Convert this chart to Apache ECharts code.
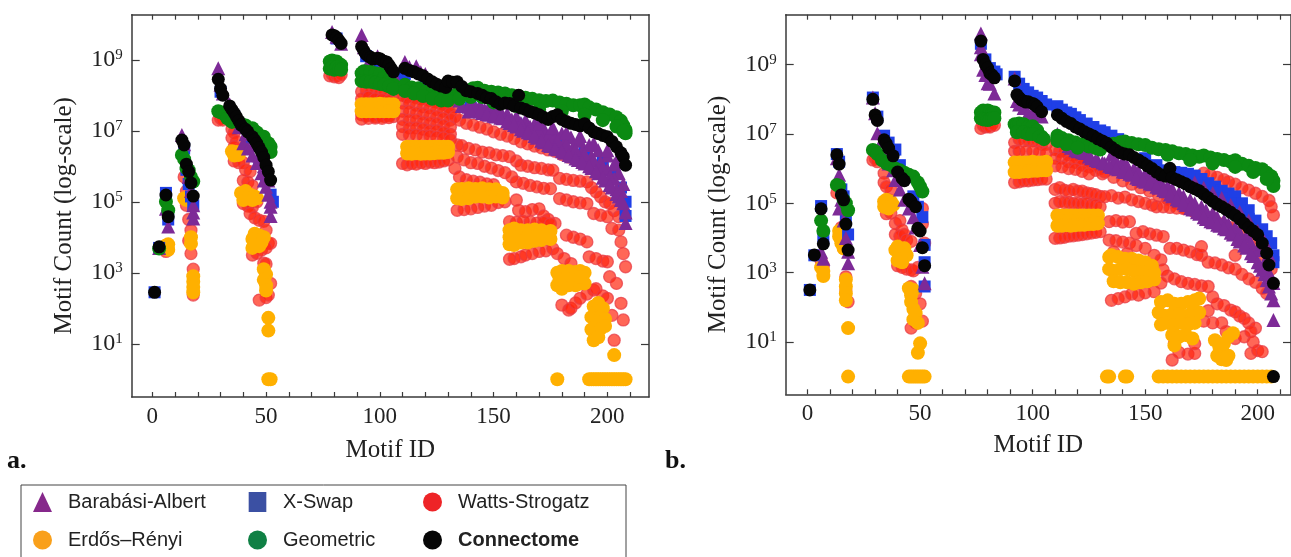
<!DOCTYPE html>
<html><head><meta charset="utf-8">
<style>html,body{margin:0;padding:0;background:#fff}#c{width:1291px;height:557px;filter:blur(0.4px)}</style>
<script src="https://cdn.jsdelivr.net/npm/echarts@6/dist/echarts.min.js"></script>
</head><body><div id="c"></div>
<script>
// every point is [motif id, log10(count)]
const xTickLabels=[0,50,100,150,200];
const xTickMarks=[0,10,20,30,40,50,60,70,80,90,100,110,120,130,140,150,160,170,180,190,200,210];
const yTickValues=[10,1000,100000,10000000,1000000000];
const seriesNames=['Barabási-Albert','X-Swap','Watts-Strogatz','Erdős–Rényi','Geometric','Connectome'];

const blackA=[[1,2.45],[3,3.73],[6,5.19],[7,4.58],[13,6.74],[14,6.6],[15,6.06],[16,5.85],[17,5.53],[18,5.16],[29,8.45],[30,8.19],[31,8.0],[34,7.7],[35,7.6],[36,7.5],[37,7.39],[38,7.28],[39,7.16],[41,7.04],[42,6.97],[44,6.83],[45,6.74],[46,6.64],[47,6.52],[48,6.4],[49,6.25],[50,6.03],[51,5.85],[52,5.61],[79,9.7],[80,9.68],[81,9.63],[82,9.55],[83,9.46],[92,9.37],[93,9.25],[94,9.15],[95,9.1],[96,9.07],[97,9.02],[99,9.04],[100,9.03],[101,8.98],[102,8.95],[103,8.94],[104,8.85],[105,8.75],[106,8.66],[111,8.76],[113,8.7],[115,8.66],[117,8.6],[119,8.55],[121,8.46],[123,8.38],[125,8.31],[127,8.26],[129,8.22],[130,8.4],[132,8.37],[134,8.38],[136,8.25],[138,8.13],[140,8.1],[143,8.05],[145,8.0],[147,7.93],[149,7.91],[151,7.82],[153,7.75],[155,7.78],[157,7.77],[159,7.7],[161,8.0],[162,7.64],[164,7.6],[166,7.54],[168,7.5],[170,7.45],[172,7.38],[174,7.32],[176,7.4],[178,7.45],[180,7.32],[182,7.26],[184,7.21],[186,7.18],[188,7.14],[190,7.2],[192,7.08],[194,6.97],[196,6.92],[198,6.87],[200,6.83],[202,6.7],[204,6.55],[206,6.38],[207,6.27],[208,6.03]];
const blueA=[[1,2.45],[3,3.7],[6,5.25],[7,4.5],[14,6.5],[15,5.9],[16,5.5],[17,5.15],[18,4.9],[30,8.1],[36,7.4],[42,6.8],[47,6.1],[50,5.6],[52,5.2],[53,5.0],[81,9.6],[94,9.1],[100,8.9],[106,8.6],[111,8.6],[120,8.3],[130,8.0],[140,7.65],[150,7.4],[160,7.2],[170,6.95],[180,6.7],[190,6.4],[198,6.1],[203,5.8],[206,5.4],[208,5.0],[208,4.6]];
const purpleA=[[3,3.7],[6,4.8],[7,4.3],[13,6.88],[14,6.62],[15,6.1],[16,5.7],[17,5.3],[18,4.9],[18,4.7],[18,4.53],[29,8.76],[30,8.3],[31,8.05],[34,7.75],[36,7.45],[38,7.1],[40,6.65],[42,6.5],[44,6.3],[46,6.09],[48,5.8],[49,5.6],[50,5.42],[51,5.2],[52,5.0],[52,4.86],[52,4.6],[41,6.9],[44,6.6],[47,6.3],[49,6.0],[51,5.6],[79,9.78],[81,9.65],[83,9.45],[92,9.7],[93,9.35],[94,9.3],[96,9.05],[99,9.1],[102,8.95],[106,8.6],[111,8.94],[113,8.8],[116,8.82],[118,8.65],[120,8.6],[125,8.3],[130,8.1],[135,7.85],[139,7.54],[142,7.58],[145,7.5],[148,7.45],[151,7.4],[154,7.35],[157,7.22],[160,7.12],[163,7.0],[166,6.93],[169,6.8],[172,6.68],[175,6.57],[178,6.48],[181,6.38],[184,6.28],[187,6.18],[190,6.08],[193,5.95],[196,5.8],[199,5.6],[202,5.4],[205,5.15],[207,4.96],[208,4.7],[208,4.4],
[140,7.8],[144,7.72],[148,7.68],[152,7.58],[156,7.48],[160,7.4],[164,7.3],[168,7.2],[172,7.08],[176,7.0],[180,6.92],[184,6.82],[188,6.72],[192,6.6],[196,6.45],[200,6.3],[203,6.05],[205,5.8],[207,5.5],
[165,7.15],[169,7.02],[173,6.9],[177,6.78],[181,6.68],[185,6.56],[189,6.42],[193,6.28],[197,6.12],[200,5.9],[203,5.65],[206,5.3],
[136,7.7],[139,7.68],[142,7.65],[146,7.6],[150,7.52],[154,7.44],[158,7.32],[162,7.22],[166,7.12],[170,6.98],[174,6.84],[178,6.72],[182,6.62],[186,6.48],[190,6.34],[194,6.16],[198,5.96],[201,5.7],[204,5.35],[206,5.05],[170,7.2],[176,7.1],[182,6.95],[188,6.85],[194,6.65],[200,6.45],[204,6.15],
[140,7.56],[144,7.54],[147,7.47],[150,7.42],[153,7.37],[156,7.27],[159,7.16],[162,7.04],[165,6.96],[168,6.85],[171,6.72],[174,6.6],[177,6.5],[180,6.42],[183,6.32],[186,6.22],[189,6.12],[192,6.0],[195,5.86],[198,5.68],[201,5.47],[204,5.22],[206,5.05]];
const greenA=[[3,3.68],[6,5.0],[7,4.76],[13,6.32],[14,6.2],[15,5.95],[16,5.89],[17,5.7],[18,5.57],[29,7.55],[30,7.52],[31,7.5],[32,7.45],[33,7.35],[35,7.25],[37,7.3],[39,7.2],[41,7.15],[44,7.07],[46,6.95],[49,6.83],[51,6.65],[52,6.55],[52,6.4],[78,8.95],[79,8.98],[80,8.92],[81,8.95],[82,8.88],[83,8.85],[78,8.75],[79,8.8],[80,8.72],[81,8.78],[82,8.74],[83,8.72],[92,8.62],[93,8.68],[94,8.66],[96,8.66],[98,8.62],[100,8.6],[102,8.5],[104,8.42],[106,8.3],[92,8.4],[94,8.38],[96,8.38],[98,8.35],[100,8.32],[102,8.3],[104,8.25],[106,8.18],[111,8.3],[114,8.22],[117,8.2],[120,8.1],[123,8.08],[126,8.05],[129,8.0],[132,7.98],[135,8.1],[138,8.12],[141,8.2],[143,8.21],[146,8.13],[149,8.1],[152,8.08],[155,8.05],[158,8.0],[161,7.98],[164,7.93],[167,7.9],[170,7.86],[173,7.84],[176,7.85],[179,7.8],[182,7.76],[185,7.72],[188,7.72],[190,7.74],[192,7.66],[195,7.6],[198,7.52],[201,7.46],[204,7.38],[206,7.28],[207,7.15],[208,7.02],[208,6.93],[111,8.12],[115,8.05],[119,7.98],[123,7.9],[127,7.85],[150,7.8],[160,7.7],[170,7.6],[180,7.55],[190,7.45],[198,7.3],[204,7.12],[207,6.98],[130,7.85],[135,7.9],[140,7.95],[145,7.95],[155,7.85]];
const redA=[[7,3.65],[6,3.6],[14,5.7],[15,5.3],[15,4.9],[16,4.5],[17,4.2],[16,3.9],[17,3.54],[18,3.1],[18,2.37],[29,7.3],[30,7.35],[31,7.3],[35,7.05],[36,6.95],[35,6.8],[37,6.7],[36,6.55],[38,6.4],[36,6.15],[38,6.1],[40,6.1],[41,5.9],[43,5.85],[40,5.6],[42,5.55],[44,5.45],[40,4.95],[42,4.88],[44,4.85],[46,5.0],[43,4.67],[45,4.55],[47,4.48],[49,4.45],[50,4.2],[46,4.0],[51,3.83],[52,3.83],[44,3.5],[46,3.55],[48,3.64],[50,3.7],[49,3.27],[50,3.25],[52,2.7],[47,2.23],[50,2.3],[51,2.37],
[78,8.55],[79,8.6],[80,8.52],[81,8.55],[82,8.5],[83,8.58],
[92,8.1],[94,8.15],[96,8.1],[98,8.12],[100,8.05],[102,8.08],[104,8.0],[106,8.0],[92,7.9],[95,7.95],[98,7.9],[101,7.88],[104,7.85],[106,7.8],[92,7.45],[94,7.42],[96,7.44],[98,7.4],[100,7.42],[102,7.4],[104,7.42],[106,7.4],[92,7.33],[95,7.35],[98,7.36],[101,7.35],[104,7.37],
[110,8.0],[112,7.95],[114,7.98],[116,7.93],[118,7.9],[120,7.9],[122,7.85],[124,7.82],[126,7.78],[128,7.75],[130,7.68],[133,7.68],[110,7.78],[113,7.78],[116,7.72],[119,7.68],[122,7.65],[125,7.6],[128,7.55],[131,7.5],[110,7.55],[113,7.55],[116,7.5],[119,7.48],[122,7.44],[125,7.4],[128,7.35],[131,7.3],[110,7.32],[113,7.3],[116,7.3],[119,7.24],[122,7.22],[125,7.2],[128,7.15],[131,7.1],[110,7.12],[113,7.08],[116,7.08],[119,7.05],[122,7.0],[125,7.0],[128,6.95],[131,6.9],[110,6.9],[113,6.88],[116,6.88],[119,6.85],[122,6.85],[125,6.82],[128,6.8],[131,6.75],
[110,6.08],[112,6.04],[114,6.08],[116,6.06],[118,6.1],[120,6.08],[122,6.12],[124,6.1],[126,6.12],[128,6.15],[130,6.18],
[133,7.4],[135,7.3],[138,7.21],[141,7.16],[144,7.1],[147,7.05],[150,6.97],[153,6.9],[156,6.85],[159,6.78],[162,6.69],[165,6.63],[168,6.57],[171,6.52],[174,6.46],[177,6.42],[180,6.33],[183,6.26],[186,6.2],[189,6.15],
[134,6.6],[136,6.58],[139,6.5],[142,6.46],[145,6.4],[148,6.38],[151,6.32],[154,6.3],[157,6.27],[160,6.15],[162,6.03],[165,6.0],[168,5.96],[171,5.94],[174,5.9],[176,5.89],[179,5.66],[182,5.63],[185,5.6],[188,5.58],[191,5.56],[193,5.4],[195,5.28],[197,5.14],[199,5.0],[201,4.95],[203,4.75],[205,4.58],
[134,6.27],[137,6.18],[140,6.1],[143,6.08],[146,6.0],[149,5.95],[152,5.88],[155,5.82],[158,5.7],[160,5.56],[163,5.52],[166,5.46],[169,5.42],[172,5.38],[175,5.37],[179,5.09],[182,5.05],[185,5.0],[188,4.97],[191,4.95],[194,4.67],[197,4.62],[200,4.58],[202,4.25],[205,4.2],[206,3.87],[207,3.54],[208,3.17],
[133,5.94],[135,5.7],[138,5.62],[141,5.58],[144,5.55],[147,5.5],[150,5.48],[134,4.76],[137,4.78],[140,4.8],[143,4.84],[146,4.88],[149,4.9],[152,4.98],[155,5.0],[160,5.05],
[161,4.76],[164,4.72],[167,4.78],[170,4.8],[172,4.6],[174,4.5],[177,4.39],[182,4.06],[185,4.0],[188,3.95],[191,3.87],[192,3.45],[195,3.4],[198,3.33],[200,3.31],[201,2.89],[204,2.7],[206,2.14],[207,1.67],
[157,4.44],[160,4.42],[163,4.45],[166,4.44],[169,4.4],[172,4.42],[175,4.38],[157,3.38],[159,3.4],[162,3.45],[164,3.5],[167,3.54],[170,3.6],[173,3.62],[176,3.68],[178,3.54],[181,3.4],[184,3.26],
[180,2.09],[183,1.95],[184,2.0],[186,2.15],[188,2.28],[191,2.4],[194,2.51],[195,2.55],[198,2.35],[200,2.28],[202,1.8],[203,1.1]];
const orangeA=[[6,3.77],[7,3.8],[7,3.65],[14,5.1],[15,5.05],[17,4.0],[17,3.82],[18,2.9],[18,2.75],[18,2.6],[18,2.45],[35,6.42],[36,6.3],[37,6.4],[38,6.32],[39,5.25],[41,5.3],[43,5.2],[45,5.15],[46,5.1],[40,5.05],[42,5.1],[44,5.05],[44,3.95],[45,4.1],[46,3.9],[47,4.05],[48,3.85],[49,4.0],[44,3.7],[47,3.75],[49,3.1],[50,2.95],[49,2.8],[50,2.65],[50,2.5],[51,1.73],[51,1.37],[51,0],[52,0],
[92,7.75],[94,7.75],[96,7.75],[98,7.75],[100,7.76],[102,7.75],[104,7.75],[106,7.75],[92,7.55],[94,7.55],[96,7.55],[98,7.55],[100,7.55],[102,7.55],[104,7.55],[106,7.55],
[112,6.55],[114,6.55],[116,6.55],[118,6.55],[120,6.55],[122,6.55],[124,6.55],[126,6.55],[128,6.55],[130,6.55],[112,6.36],[114,6.35],[116,6.37],[118,6.35],[120,6.36],[122,6.36],[124,6.37],[126,6.38],[128,6.38],[130,6.4],
[134,5.35],[136,5.36],[139,5.38],[142,5.36],[145,5.38],[148,5.35],[151,5.35],[154,5.25],[134,5.1],[136,5.08],[139,5.1],[142,5.15],[145,5.15],[148,5.12],[151,5.15],[154,5.12],
[157,4.2],[159,4.25],[162,4.2],[165,4.2],[168,4.22],[171,4.2],[175,4.18],[157,3.8],[159,3.78],[162,3.85],[165,3.85],[168,3.9],[171,3.92],[175,3.95],[157,4.0],[161,4.02],[165,4.02],[169,4.04],[173,4.05],
[178,3.0],[180,3.05],[183,3.05],[186,3.02],[188,3.05],[190,3.0],[178,2.65],[180,2.55],[183,2.65],[186,2.65],[188,2.7],[190,2.7],[179,2.82],[182,2.85],[185,2.85],[188,2.88],
[194,2.05],[196,2.15],[198,2.0],[193,1.75],[195,1.72],[197,1.75],[199,1.7],[193,1.4],[195,1.3],[197,1.42],[199,1.5],[194,1.1],[196,1.18],[203,0.68],[178,0],[192,0],[193,0],[194,0],[195,0],[196,0],[197,0],[198,0],[199,0],[200,0],[201,0],[202,0],[203,0],[204,0],[205,0],[206,0],[207,0],[208,0]];

const blackB=[[1,2.5],[3,3.51],[6,4.84],[7,3.83],[13,6.4],[14,6.13],[15,5.24],[16,5.1],[17,4.4],[18,3.65],[29,8.0],[30,7.55],[31,7.39],[34,6.83],[35,6.72],[36,6.59],[38,6.37],[40,5.9],[42,5.72],[43,5.65],[45,5.12],[46,5.05],[48,4.9],[49,4.28],[50,4.2],[51,3.72],[52,3.2],[77,9.68],[78,9.15],[79,9.0],[80,8.9],[81,8.75],[82,8.7],[83,8.62],[92,8.53],[93,8.13],[94,8.05],[95,7.98],[96,7.95],[97,7.92],[98,7.93],[100,7.88],[101,7.84],[102,7.78],[104,7.64],[111,7.55],[113,7.45],[115,7.36],[117,7.3],[119,7.2],[121,7.14],[123,7.06],[125,7.0],[127,6.94],[129,6.86],[131,6.8],[133,6.73],[135,6.62],[137,6.53],[139,6.46],[141,6.42],[143,6.4],[145,6.32],[147,6.25],[149,6.17],[151,6.08],[153,6.0],[155,5.9],[157,5.82],[159,5.78],[161,6.01],[162,5.74],[164,5.68],[166,5.62],[168,5.56],[170,5.48],[172,5.42],[174,5.36],[176,5.26],[178,5.16],[180,5.06],[182,4.97],[184,4.9],[186,4.82],[188,4.74],[190,4.65],[192,4.55],[194,4.42],[196,4.3],[198,4.2],[200,4.09],[202,3.85],[204,3.56],[205,3.22],[207,2.69],[207,0]];
const blueB=[[1,2.5],[3,3.5],[6,4.92],[7,4.0],[13,6.42],[14,6.2],[15,5.4],[16,5.2],[17,4.6],[18,4.1],[29,8.05],[31,7.5],[34,6.95],[36,6.75],[39,6.55],[41,6.1],[44,5.75],[47,5.2],[49,4.9],[51,4.6],[52,3.8],[52,3.3],[52,2.6],[77,9.6],[79,9.15],[81,8.9],[83,8.8],[84,8.72],[92,8.65],[94,8.45],[96,8.3],[98,8.2],[100,8.1],[102,8.05],[104,7.95],[106,7.85],[111,7.8],[113,7.7],[115,7.62],[117,7.58],[119,7.48],[121,7.4],[124,7.3],[127,7.2],[130,7.1],[132,7.05],[135,6.95],[138,6.85],[150,6.3],[155,6.1],[160,5.95],[163,5.9],[166,5.88],[169,5.85],[172,5.8],[175,5.7],[178,5.58],[181,5.48],[184,5.36],[187,5.28],[190,5.2],[193,5.0],[196,4.8],[199,4.5],[202,4.25],[204,4.05],[206,3.85],[207,3.5],[207,3.3],[176,5.5],[180,5.3],[184,5.15],[188,5.0],[192,4.8],[196,4.55],[200,4.2],[203,3.9]];
const purpleB=[[6,3.6],[7,3.4],[13,6.3],[14,5.82],[14,4.85],[15,5.1],[16,4.5],[17,4.0],[18,3.6],[18,3.27],[29,8.05],[30,7.6],[31,7.02],[33,6.8],[35,6.4],[36,6.15],[38,5.95],[39,5.67],[41,5.4],[43,5.1],[45,4.85],[47,4.6],[48,4.3],[50,3.8],[51,3.17],[52,2.69],[77,9.9],[77,9.5],[77,9.3],[78,8.85],[79,8.7],[80,8.46],[81,8.45],[83,8.17],[92,8.6],[93,7.95],[94,7.85],[96,7.75],[98,7.6],[100,7.62],[102,7.55],[104,7.5],[111,7.0],[114,6.8],[117,6.6],[120,6.5],[123,6.45],[126,6.3],[129,6.22],[132,6.15],[135,6.05],[138,5.98],[141,5.9],[144,5.82],[147,5.7],[150,5.62],[153,5.55],[156,5.45],[159,5.35],[162,5.2],[165,5.08],[168,4.95],[171,4.82],[174,4.7],[177,4.55],[180,4.45],[183,4.35],[186,4.25],[189,4.1],[192,3.9],[195,3.72],[198,3.48],[201,3.2],[203,2.95],[205,2.6],[207,2.2],[207,1.63],
[135,6.4],[140,6.2],[145,6.0],[150,5.85],[155,5.7],[160,5.5],[165,5.3],[170,5.1],[175,4.9],[180,4.72],[185,4.5],[190,4.3],[195,4.05],[200,3.65],[203,3.3],[205,3.0],[207,2.7],
[172,5.6],[176,5.45],[180,5.3],[184,5.15],[188,4.95],[192,4.75],[196,4.5],[200,4.2],[203,3.9],[205,3.5],
[137,6.25],[142,6.08],[147,5.92],[152,5.78],[157,5.6],[162,5.42],[167,5.2],[172,5.0],[177,4.8],[182,4.6],[187,4.4],[192,4.15],[197,3.85],
[113,6.85],[116,6.65],[119,6.53],[122,6.47],[125,6.35],[128,6.25],[131,6.18],[134,6.08],[137,6.0],[140,5.92],[143,5.85],[146,5.74],[149,5.65],[152,5.57],[155,5.48],[158,5.38],[161,5.25],[164,5.12],[167,5.0],[170,4.86],[173,4.74],[176,4.6],[179,4.48],[182,4.38],[185,4.28],[188,4.15],[191,3.97],[194,3.78],[197,3.56],[200,3.3],[202,3.08],[204,2.78],[206,2.4]];
const greenB=[[6,4.5],[7,4.2],[13,5.53],[14,5.5],[16,5.1],[17,5.0],[18,4.8],[29,6.54],[30,6.5],[31,6.42],[33,6.25],[35,6.15],[37,6.1],[39,6.0],[41,5.95],[43,5.88],[45,5.82],[47,5.77],[49,5.6],[50,5.48],[51,5.34],[77,7.62],[78,7.68],[79,7.65],[80,7.68],[81,7.65],[82,7.6],[83,7.62],[77,7.45],[78,7.42],[79,7.42],[80,7.4],[81,7.42],[82,7.45],[83,7.45],[92,7.28],[93,7.26],[94,7.3],[96,7.28],[98,7.2],[100,7.22],[102,7.1],[104,6.92],[93,7.05],[96,7.05],[98,7.0],[100,7.0],[103,6.92],[105,6.85],[111,6.95],[113,6.88],[116,6.82],[119,6.75],[122,6.7],[125,6.64],[128,6.59],[130,6.55],[133,6.72],[136,6.72],[139,6.76],[141,6.78],[144,6.74],[147,6.7],[150,6.68],[153,6.6],[156,6.56],[159,6.54],[162,6.5],[165,6.44],[168,6.42],[171,6.38],[174,6.34],[176,6.38],[179,6.32],[182,6.28],[185,6.25],[188,6.2],[190,6.24],[193,6.14],[196,6.08],[199,6.02],[202,5.98],[204,5.88],[206,5.78],[207,5.65],[207,5.5],[111,6.8],[115,6.7],[120,6.6],[160,6.4],[170,6.25],[180,6.15],[190,6.05],[198,5.9],[204,5.7]];
const redB=[[6,3.35],[7,3.2],[13,5.3],[15,4.3],[15,4.0],[16,3.7],[17,2.88],[17,2.5],[18,2.16],[29,6.25],[30,6.3],[31,6.2],[34,5.87],[34,5.6],[35,5.48],[37,5.4],[36,5.1],[35,4.7],[37,4.72],[39,4.42],[41,4.5],[42,4.23],[39,4.1],[41,4.05],[43,4.1],[44,3.94],[46,3.9],[40,3.2],[42,3.15],[44,3.1],[46,3.08],[47,3.05],[49,3.15],[51,4.85],[51,4.4],[52,3.85],[46,2.6],[48,2.4],[50,2.1],[51,1.6],[46,1.4],[48,1.55],
[77,7.16],[78,7.25],[79,7.2],[80,7.22],[81,7.2],[82,7.28],[83,7.25],
[92,6.75],[94,6.85],[96,6.8],[98,6.82],[100,6.8],[102,6.8],[104,6.7],[106,6.7],[92,6.5],[94,6.5],[97,6.5],[100,6.5],[103,6.48],[106,6.45],[92,5.6],[94,5.62],[96,5.65],[98,5.65],[100,5.67],[102,5.68],[104,5.7],[106,5.7],
[110,6.55],[112,6.5],[114,6.5],[116,6.4],[118,6.4],[120,6.3],[122,6.3],[124,6.25],[126,6.15],[128,6.1],[130,6.0],[110,6.3],[113,6.3],[116,6.2],[119,6.18],[122,6.1],[125,6.05],[128,5.95],[131,5.85],[110,6.08],[113,6.05],[116,6.0],[119,5.98],[122,5.92],[125,5.85],[110,5.4],[112,5.45],[114,5.38],[116,5.35],[118,5.4],[120,5.35],[122,5.35],[124,5.3],[126,5.28],[128,5.25],[130,5.2],[110,5.0],[112,5.05],[114,5.02],[116,5.02],[118,5.0],[120,5.0],[122,4.98],[124,5.0],[126,4.95],[128,4.95],[130,4.9],
[110,3.99],[112,4.0],[114,4.02],[116,4.05],[118,4.06],[120,4.08],[122,4.1],[124,4.12],[126,4.14],[128,4.16],[130,4.18],
[176,5.87],[179,5.82],[182,5.75],[185,5.68],[187,5.62],[190,5.55],[193,5.45],[196,5.38],[199,5.29],[202,5.2],[205,5.08],[206,4.9],[207,4.66],
[132,5.9],[136,5.75],[140,5.65],[144,5.55],[148,5.45],[152,5.35],[156,5.22],[160,5.12],[164,5.0],[168,4.85],[172,4.75],[176,4.65],[180,4.55],[184,4.4],[188,4.3],[192,4.15],[196,3.95],[200,3.75],[203,3.5],[206,3.1],
[132,5.19],[135,5.22],[138,5.15],[141,5.18],[144,5.1],[147,5.05],[150,5.0],[153,4.95],[155,4.9],[158,4.9],[161,4.88],[164,4.86],[167,4.85],[170,4.82],[173,4.72],[176,4.62],[179,4.52],[182,4.44],[185,4.35],[188,4.25],
[134,4.47],[137,4.5],[140,4.46],[143,4.47],[146,4.13],[149,4.18],[152,4.12],[155,4.08],[158,4.04],[161,3.7],[164,3.7],[167,3.65],[170,3.6],[173,3.52],[175,3.5],[178,3.3],[181,3.28],[184,3.22],[187,3.14],[190,3.1],[193,2.95],[196,2.82],[199,2.72],[202,2.55],[204,2.4],[190,3.5],[175,3.75],
[134,3.94],[137,3.92],[140,3.88],[143,3.85],[146,3.78],[150,3.7],[154,3.5],[157,3.37],[160,2.9],[163,2.82],[166,2.74],[169,2.69],[172,2.66],[175,2.62],[178,2.6],[180,2.3],[182,2.1],[185,2.05],[188,1.92],[190,1.87],[192,1.75],[194,1.68],[196,1.55],[199,1.4],[136,3.6],[142,3.55],
[135,2.2],[138,2.25],[141,2.3],[144,2.38],[147,2.35],[150,2.42],[154,2.45],[157,2.7],[158,3.08],
[163,0.96],[162,0.48],[165,0.7],[169,0.65],[172,0.67],[172,0.95],[176,1.6],[178,1.9],[180,1.55],[184,1.55],[186,1.3],[190,1.1],[194,1.15],[197,1.3],[198,1.0],[197,0.67],[200,0.75],[202,0.72]];
const orangeB=[[6,3.15],[7,3.05],[7,2.9],[14,4.2],[14,4.04],[15,3.85],[16,3.7],[17,2.8],[17,2.6],[17,2.4],[17,2.2],[18,1.4],[18,0],[34,5.05],[35,5.1],[36,4.95],[37,5.05],[38,4.95],[34,4.9],[36,4.85],[39,3.65],[40,3.75],[41,3.55],[42,3.6],[43,3.7],[44,3.5],[40,3.35],[42,3.3],[45,2.55],[46,2.35],[47,2.5],[46,2.15],[47,1.95],[48,1.83],[47,1.65],[49,1.55],[50,0.96],[49,0.69],[45,0],[46,0],[47,0],[48,0],[49,0],[50,0],[51,0],[52,0],
[92,6.18],[94,6.18],[96,6.18],[98,6.18],[100,6.2],[102,6.18],[104,6.18],[106,6.2],[92,5.9],[94,5.9],[96,5.92],[98,5.92],[100,5.94],[102,5.94],[104,5.95],[106,5.95],
[111,4.65],[113,4.65],[115,4.65],[117,4.65],[119,4.65],[121,4.65],[123,4.65],[125,4.65],[127,4.65],[129,4.65],[111,4.35],[113,4.35],[115,4.37],[117,4.35],[119,4.37],[121,4.38],[123,4.38],[125,4.4],[127,4.4],[129,4.42],
[134,3.45],[135,3.5],[138,3.45],[141,3.4],[144,3.4],[147,3.35],[150,3.3],[153,3.2],[134,3.1],[136,3.05],[139,3.1],[142,3.1],[145,3.05],[148,3.0],[151,3.02],[154,3.0],[136,2.75],[139,2.72],[142,2.72],[145,2.68],[148,2.72],[151,2.75],[154,2.8],
[157,2.15],[160,2.2],[163,2.1],[166,2.1],[169,2.15],[172,2.2],[174,2.25],[156,1.85],[159,1.75],[162,1.8],[165,1.8],[168,1.75],[171,1.85],[174,1.85],[157,1.5],[160,1.55],[163,1.5],[166,1.55],[169,1.5],[172,1.55],[162,1.2],[165,1.15],[168,1.2],[171,1.1],[163,0.9],
[181,1.05],[183,0.85],[182,0.6],[184,0.5],[186,0.48],[187,0.6],[189,1.25],[187,1.15],[185,0.95],
[133,0],[134,0],[141,0],[142,0],[156,0],[158,0],[160,0],[162,0],[164,0],[166,0],[168,0],[170,0],[172,0],[174,0],[176,0],[178,0],[180,0],[182,0],[184,0],[186,0],[188,0],[190,0],[192,0],[194,0],[196,0],[198,0],[200,0],[202,0],[204,0],[206,0]];

const pts=a=>a.map(p=>[p[0],Math.pow(10,p[1])]);
const C={purple:'#7d2a97',blue:'#1f3fe6',red:'#ff2c10',orange:'#ffb000',green:'#0b8a12',black:'#050505'};
const serif='"Liberation Serif","DejaVu Serif",serif';
const sans='"Liberation Sans",Arial,sans-serif';
const lineC='#3a3a3a';

function series(name,data,panel,sym,size,color,extra){
  return Object.assign({name,type:'scatter',xAxisIndex:panel*2,yAxisIndex:panel*2,data:pts(data),symbol:sym,symbolSize:size,
    itemStyle:{color,opacity:1},emphasis:{disabled:true},silent:true,animation:false},extra||{});
}
const redStyle={itemStyle:{color:'rgba(255,38,16,0.7)',borderColor:'rgba(232,60,70,0.75)',borderWidth:1.3,opacity:1}};
function panelSeries(i,b,u,r,o,g,k){
  return [
    series(seriesNames[2],r,i,'circle',12,C.red,redStyle),
    series(seriesNames[3],o,i,'circle',14,C.orange),
    series(seriesNames[1],u,i,'rect',12,C.blue),
    series(seriesNames[0],b,i,'triangle',14,C.purple),
    series(seriesNames[4],g,i,'circle',14,C.green),
    series(seriesNames[5],k,i,'circle',13,C.black)
  ];
}
const grids=[
 {left:131.7,top:14.7,width:517.3,height:382.3},
 {left:785.7,top:14.7,width:507.5,height:379.6}];
const xExt=[[-9.05,218.3],[-9.73,214.8]];
const yExt=[[Math.pow(10,-0.5),Math.pow(10,10.27)],[Math.pow(10,-0.51),Math.pow(10,10.44)]];
function xAxes(i){
  const base={type:'value',gridIndex:i,min:xExt[i][0],max:xExt[i][1],splitLine:{show:false},
    axisLine:{show:true,onZero:false,lineStyle:{color:lineC,width:1.5}},
    axisTick:{show:true,inside:true,length:5,customValues:xTickMarks,lineStyle:{color:lineC,width:1.2}},
    minorTick:{show:false}};
  return [
   Object.assign({},base,{position:'bottom',name:'Motif ID',nameLocation:'middle',nameGap:i?39:41,
     nameTextStyle:{fontFamily:serif,fontSize:25,color:'#222'},
     axisLabel:{show:true,customValues:xTickLabels,fontFamily:serif,fontSize:23,color:'#222',margin:8}}),
   Object.assign({},base,{position:'top',axisLabel:{show:false}})
  ];
}
function yAxes(i){
  const base={type:'log',logBase:10,gridIndex:i,min:yExt[i][0],max:yExt[i][1],splitLine:{show:false},
    axisLine:{show:true,onZero:false,lineStyle:{color:lineC,width:1.5}},
    axisTick:{show:true,inside:true,length:8,customValues:yTickValues,lineStyle:{color:lineC,width:1.2}},minorTick:{show:false}};
  return [
   Object.assign({},base,{position:'left',name:'Motif Count (log-scale)',nameLocation:'middle',nameGap:55,
     nameTextStyle:{fontFamily:serif,fontSize:25,color:'#222',padding:[0,20,0,0]},
     axisLabel:{show:true,customValues:yTickValues,margin:9,
       formatter:v=>'{b|10}{s|'+Math.round(Math.log10(v))+'}',
       rich:{b:{fontFamily:serif,fontSize:24,color:'#222'},s:{fontFamily:serif,fontSize:15,color:'#222',verticalAlign:'bottom',padding:[0,0,9,0]}}}}),
   Object.assign({},base,{position:'right',axisLabel:{show:false}})
  ];
}
const legendItem=(name,color,bold,icon)=>({name,icon,itemStyle:{color,opacity:1,borderWidth:0},
   textStyle:bold?{fontWeight:'bold'}:undefined});
function legendCol(left,items){
  return {orient:'vertical',left,top:492,padding:0,itemGap:18,itemWidth:19,itemHeight:20,selectedMode:false,
    textStyle:{fontFamily:sans,fontSize:20,color:'#222',padding:[0,0,0,11]},data:items};
}
const option={animation:false,backgroundColor:'#fff',
 grid:grids,
 xAxis:[...xAxes(0),...xAxes(1)],
 yAxis:[...yAxes(0),...yAxes(1)],
 legend:[
  legendCol(33,[legendItem(seriesNames[0],'#86288b'),legendItem(seriesNames[3],'#f9a01b')]),
  legendCol(248,[legendItem(seriesNames[1],'#3b50a3',false,'path://M0,0H15V17H0Z'),legendItem(seriesNames[4],'#0f8044')]),
  legendCol(423,[legendItem(seriesNames[2],'#ee2427'),legendItem(seriesNames[5],'#060606',true)])
 ],
 graphic:[
  {type:'rect',left:18.5,top:482.5,shape:{width:605,height:90},style:{fill:'none',stroke:'#444',lineWidth:1},silent:true},
  {type:'text',left:7,top:448,style:{text:'a.',font:'bold 26px '+serif,fill:'#111'}},
  {type:'text',left:665,top:448,style:{text:'b.',font:'bold 26px '+serif,fill:'#111'}}
 ],
 series:[...panelSeries(0,purpleA,blueA,redA,orangeA,greenA,blackA),...panelSeries(1,purpleB,blueB,redB,orangeB,greenB,blackB)]
};
echarts.init(document.getElementById('c'),null,{renderer:'canvas'}).setOption(option);
</script></body></html>
